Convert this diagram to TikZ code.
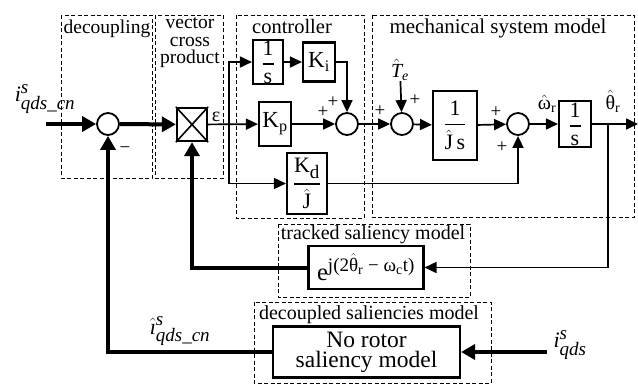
\documentclass[tikz,border=0pt]{standalone}
\usepackage{amsmath}
\usepackage{fontspec}
\setmainfont{Liberation Serif}
\usetikzlibrary{arrows.meta}
\DeclareMathSizes{22}{22}{19}{14}
\DeclareMathSizes{24.5}{24.5}{19}{14}
\begin{document}
\begin{tikzpicture}[x=1pt,y=-1pt,
  blk/.style={draw,line width=2.1pt,inner sep=0pt,font=\fontsize{22}{24}\selectfont},
  sumc/.style={draw,circle,line width=1.8pt,minimum size=22pt,inner sep=0pt},
  thn/.style={line width=1.7pt},
  thk/.style={line width=4pt},
  arr/.style={-{Triangle[length=12pt,width=11pt]}},
  tarr/.style={-{Triangle[length=14pt,width=15pt]}},
  region/.style={draw,line width=0.9pt,dash pattern=on 4pt off 2.5pt},
  ttl/.style={font=\fontsize{20}{17.5}\selectfont,inner sep=0pt,anchor=base},
  lbl/.style={font=\fontsize{20}{22}\selectfont,inner sep=0pt},
  big/.style={font=\fontsize{22}{22}\selectfont,inner sep=0pt},
  pm/.style={font=\fontsize{19}{20}\selectfont,inner sep=0pt}]

\useasboundingbox (0,0) rectangle (638,384);

% regions
\draw[region] (61,15) rectangle (152,178);
\draw[region] (155,15) rectangle (223,178);
\draw[region] (236,15) rectangle (364,218);
\draw[region] (372,15) rectangle (634,217);
\draw[region] (278,224) rectangle (470,297);
\draw[region] (254,302) rectangle (491,383);

% titles
\node[ttl,font=\fontsize{19.5}{17.5}\selectfont] (tdec) at (107,33) {decoupling};
\node[ttl,font=\fontsize{19.5}{17.5}\selectfont,align=center,anchor=north] (tvcp) at (190,17.5) {vector\\cross\\product};
\node[ttl,font=\fontsize{20.5}{17.5}\selectfont] (tctl) at (292,33) {controller};
\node[ttl,font=\fontsize{21}{17.5}\selectfont] (tmec) at (498,33) {mechanical system model};
\node[ttl] (ttrk) at (373,239) {tracked saliency model};
\node[ttl] (tdcp) at (369,319) {decoupled saliencies model};

% blocks
\node[sumc] (s1) at (108,124) {};
\node[draw,line width=2.3pt,minimum width=30pt,minimum height=33pt,inner sep=0pt] (cr) at (192,124.5) {};
\draw[line width=1.6pt] (cr.north west) -- (cr.south east) (cr.north east) -- (cr.south west);
\coordinate (br) at (229,124);
\node[blk,minimum width=30pt,minimum height=44pt] (b1) at (268,62) {$\genfrac{}{}{1.5pt}{0}{\text{1}}{\text{s}}$};
\node[blk,minimum width=32pt,minimum height=39pt,font=\fontsize{23}{24}\selectfont] (ki) at (319,62) {$\text{K}_{\text{i}}$};
\node[blk,minimum width=32pt,minimum height=44pt,font=\fontsize{23}{24}\selectfont] (kp) at (275,124) {$\text{K}_{\text{p}}$};
\node[sumc] (s2) at (347,124) {};
\node[blk,minimum width=40pt,minimum height=61pt] (kd) at (307,183.5) {$\genfrac{}{}{1.5pt}{0}{\text{K}_{\text{d}}}{\hat{\text{J}}}$};
\node[sumc] (s3) at (402,124) {};
\node[lbl] (te) at (400,70) {$\hat{\textit{T}}_{\textit{e}}$};
\node[blk,minimum width=44pt,minimum height=69pt] (b2) at (455,125.5) {$\genfrac{}{}{1.5pt}{0}{\text{1}}{\hat{\text{J}}\,\text{s}}$};
\node[sumc] (s4) at (518,124) {};
\node[blk,minimum width=32pt,minimum height=46pt] (b3) at (575,124) {$\genfrac{}{}{1.5pt}{0}{\text{1}}{\text{s}}$};
\coordinate (bt) at (608,124);
\coordinate (out) at (638,124);
\node[blk,minimum width=115pt,minimum height=43pt,font=\fontsize{24.5}{26}\selectfont] (eb) at (366,267.5) {$\text{e}^{\text{j(2}\hat{\text{θ}}_{\text{r}}\text{ − ω}_{\text{c}}\text{t)}}$};
\node[blk,minimum width=187pt,minimum height=51pt,align=center,font=\fontsize{23.5}{20}\selectfont] (nr) at (366.5,352) {No rotor\\saliency model};
\coordinate (in1) at (46,124);
\coordinate (in2) at (547,352);

% labels
\node[big] (li1) at (45,99) {$\textit{i}^{\textit{s}}_{\textit{qds\_cn}}$};
\node[big] (li2) at (180,331) {$\hat{\textit{ı}}^{\textit{s}}_{\textit{qds\_cn}}$};
\node[big] (li3) at (570,345) {$\textit{i}^{\textit{s}}_{\textit{qds}}$};
\node[lbl] (lw) at (547,104) {$\hat{\text{ω}}_{\text{r}}$};
\node[lbl] (lt) at (613,101) {$\hat{\text{θ}}_{\text{r}}$};
\node[lbl] (le) at (216,117) {ε};
\node[pm] (p1) at (323,112) {+};
\node[pm] (p2) at (333,102) {+};
\node[pm] (p3) at (380,111) {+};
\node[pm] (p4) at (415,100) {+};
\node[pm] (p5) at (496,112) {+};
\node[pm] (p6) at (502,147) {+};
\node[pm] (m1) at (125,150) {−};

% connectors
\draw[thk,tarr] (in1) -- (s1);
\draw[thk,tarr] (s1) -- (cr);
\draw[thn,arr] (cr) -- (kp);
\draw[thn,arr] (br) |- (b1);
\draw[thn,arr] (br) |- (kd);
\draw[thn,arr] (b1) -- (ki);
\draw[thn,arr] (ki) -| (s2);
\draw[thn,arr] (kp) -- (s2);
\draw[thn,arr] (s2) -- (s3);
\draw[thn,arr] (te) -- (s3);
\draw[thn,arr] (s3) -- (b2);
\draw[thn,arr] (b2) -- (s4);
\draw[thn,arr] (kd) -| (s4);
\draw[thn,arr] (s4) -- (b3);
\draw[thn,arr] (b3) -- (out);
\draw[thn,arr] (bt) |- (eb);
\draw[thk,tarr] (eb) -| (cr);
\draw[thk,tarr] (nr) -| (s1);
\draw[thk,tarr] (in2) -- (nr);
\end{tikzpicture}
\end{document}
